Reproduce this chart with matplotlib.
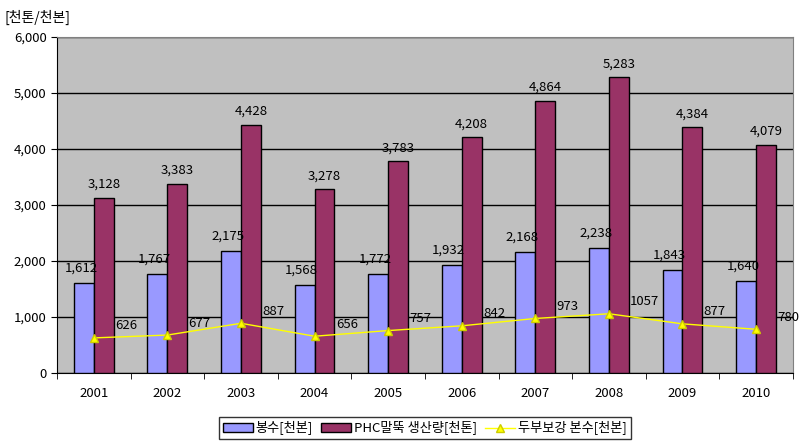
import numpy as np
import matplotlib.pyplot as plt

plt.rcParams['font.family'] = ['Noto Sans CJK KR', 'DejaVu Sans']

years = ['2001', '2002', '2003', '2004', '2005', '2006', '2007', '2008', '2009', '2010']
bongsu = [1612, 1767, 2175, 1568, 1772, 1932, 2168, 2238, 1843, 1640]
phc = [3128, 3383, 4428, 3278, 3783, 4208, 4864, 5283, 4384, 4079]
dubu = [626, 677, 887, 656, 757, 842, 973, 1057, 877, 780]

fig = plt.figure(figsize=(8.06, 4.44), dpi=100)
ax = fig.add_axes([0.0707, 0.16, 0.913, 0.7567])
ax.set_facecolor('#C0C0C0')

x = np.arange(len(years))
w = 0.27

b1 = ax.bar(x - w / 2, bongsu, w, color='#9999FF', edgecolor='black', linewidth=1, label='봉수[천본]', zorder=3)
b2 = ax.bar(x + w / 2, phc, w, color='#993366', edgecolor='black', linewidth=1, label='PHC말뚝 생산량[천톤]', zorder=3)
ln, = ax.plot(x, dubu, color='#FFFF00', marker='^', markersize=6, linewidth=1,
              markerfacecolor='#FFFF00', markeredgecolor='#CCCC00', label='두부보강 본수[천본]', zorder=4)

for i in range(len(years)):
    ax.text(x[i] - w / 2 - 0.04, bongsu[i] + 260, '{:,}'.format(bongsu[i]), ha='center', va='center', fontsize=9.5)
    ax.text(x[i] + w / 2, phc[i] + 240, '{:,}'.format(phc[i]), ha='center', va='center', fontsize=9.5)
    ax.text(x[i] + 0.29, dubu[i] + 215, str(dubu[i]), ha='left', va='center', fontsize=9.5)

ax.set_xlim(-0.5, len(years) - 0.5)
ax.set_ylim(0, 6000)
ax.set_yticks(range(0, 6001, 1000))
ax.set_yticklabels(['{:,}'.format(v) for v in range(0, 6001, 1000)], fontsize=9.5)
ax.yaxis.grid(True, color='black', linewidth=1)
ax.set_axisbelow(True)

ax.set_xticks(x)
ax.set_xticklabels(years, fontsize=9.5)
ax.tick_params(axis='x', length=0, pad=10)
ax.set_xticks(np.arange(-0.5, len(years), 1), minor=True)
ax.tick_params(axis='x', which='minor', length=4, direction='out')
ax.tick_params(axis='y', length=4, direction='out')

for s in ['top', 'right']:
    ax.spines[s].set_color('#808080')
for s in ['left', 'bottom']:
    ax.spines[s].set_color('black')

fig.text(0.006, 0.96, '[천톤/천본]', fontsize=10, ha='left', va='center')

leg = fig.legend(handles=[b1, b2, ln], loc='center', bbox_to_anchor=(0.527, 0.035),
                 ncol=3, fontsize=9.5, frameon=True, fancybox=False, edgecolor='black',
                 handlelength=2.3, handletextpad=0.2, columnspacing=0.6, borderpad=0.3,
                 borderaxespad=0.2)
leg.get_frame().set_linewidth(1)

fig.savefig('out.png', dpi=100)
